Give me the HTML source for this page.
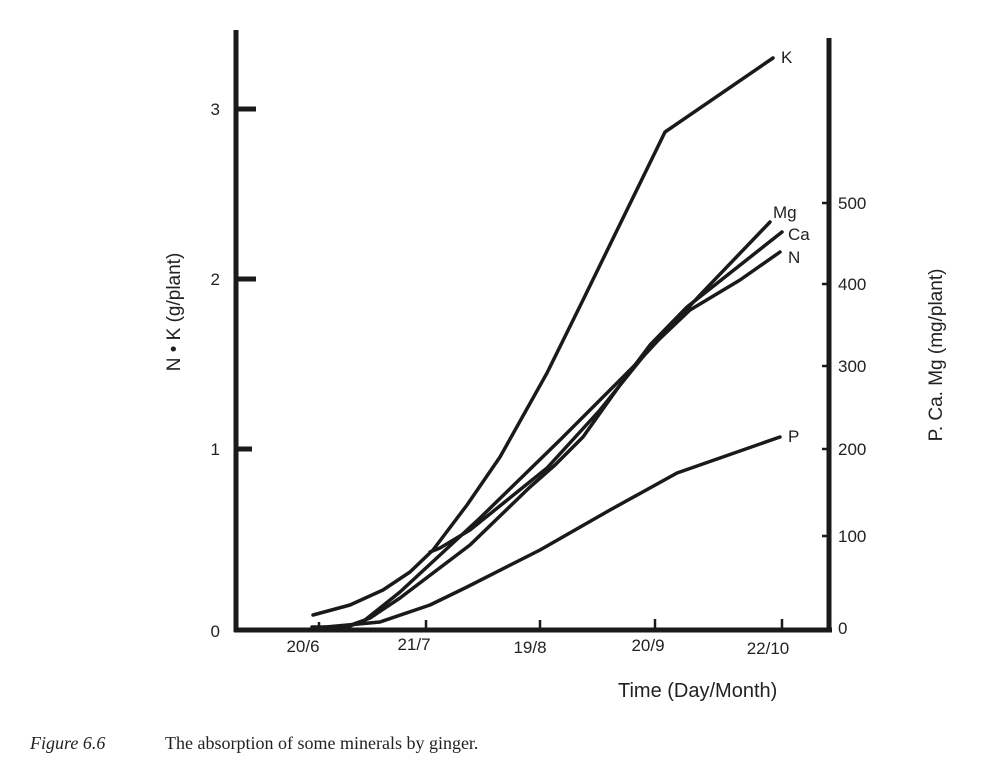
<!DOCTYPE html>
<html><head><meta charset="utf-8"><style>
body{margin:0;background:#fff;}
svg{display:block;font-family:"Liberation Sans",Arial,sans-serif;}
</style></head><body>
<svg width="989" height="772" viewBox="0 0 989 772">
<g stroke="#1a1a1a" stroke-width="5" fill="none">
<line x1="236" y1="30" x2="236" y2="632"/>
<line x1="234" y1="630" x2="832" y2="630"/>
<line x1="829" y1="38" x2="829" y2="632"/>
<line x1="236" y1="109" x2="256" y2="109"/>
<line x1="236" y1="279" x2="256" y2="279"/>
<line x1="236" y1="449" x2="252" y2="449"/>
</g>
<g stroke="#1a1a1a" stroke-width="2.5">
<line x1="319" y1="630" x2="319" y2="622"/>
<line x1="426" y1="630" x2="426" y2="620"/>
<line x1="540" y1="630" x2="540" y2="620"/>
<line x1="655" y1="630" x2="655" y2="619"/>
<line x1="782" y1="630" x2="782" y2="619"/>
<line x1="829" y1="203" x2="822" y2="203"/>
<line x1="829" y1="284" x2="822" y2="284"/>
<line x1="829" y1="366" x2="822" y2="366"/>
<line x1="829" y1="449" x2="822" y2="449"/>
<line x1="829" y1="536" x2="822" y2="536"/>
</g>
<g stroke="#1a1a1a" stroke-width="3.5" fill="none" stroke-linecap="round" stroke-linejoin="round">
<polyline points="313,615 350,605 383,590 410,572 433,550 467,505 500,457 547,373 583,300 665,132 773,58"/>
<polyline points="312,627 345,627 365,620 400,592 480,518 560,440 640,360 700,295 770,222"/>
<polyline points="345,628 370,618 400,598 470,545 530,487 555,465 583,437 620,385 650,345 687,307 782,232"/>
<polyline points="430,552 440,548 470,530 547,468 600,410 650,348 690,310 740,280 780,252"/>
<polyline points="315,628 380,622 430,605 467,587 540,550 610,510 677,473 780,437"/>
</g>
<g font-size="17" fill="#222">
<text x="781" y="63">K</text>
<text x="773" y="218">Mg</text>
<text x="788" y="240">Ca</text>
<text x="788" y="263">N</text>
<text x="788" y="442">P</text>
<text x="220" y="115" text-anchor="end">3</text>
<text x="220" y="285" text-anchor="end">2</text>
<text x="220" y="455" text-anchor="end">1</text>
<text x="220" y="637" text-anchor="end">0</text>
<text x="838" y="209">500</text>
<text x="838" y="290">400</text>
<text x="838" y="372">300</text>
<text x="838" y="455">200</text>
<text x="838" y="542">100</text>
<text x="838" y="634">0</text>
<text x="303" y="652" text-anchor="middle">20/6</text>
<text x="414" y="650" text-anchor="middle">21/7</text>
<text x="530" y="653" text-anchor="middle">19/8</text>
<text x="648" y="651" text-anchor="middle">20/9</text>
<text x="768" y="654" text-anchor="middle">22/10</text>
</g>
<text x="618" y="697" font-size="20" fill="#222">Time (Day/Month)</text>
<text transform="translate(180,312) rotate(-90)" font-size="19" text-anchor="middle" fill="#222">N • K (g/plant)</text>
<text transform="translate(942,355) rotate(-90)" font-size="19" text-anchor="middle" fill="#222">P. Ca. Mg (mg/plant)</text>
<text x="30" y="749" font-size="18" font-family="Liberation Serif,serif" fill="#222"><tspan font-style="italic">Figure 6.6</tspan><tspan x="165">The absorption of some minerals by ginger.</tspan></text>
</svg>
</body></html>
